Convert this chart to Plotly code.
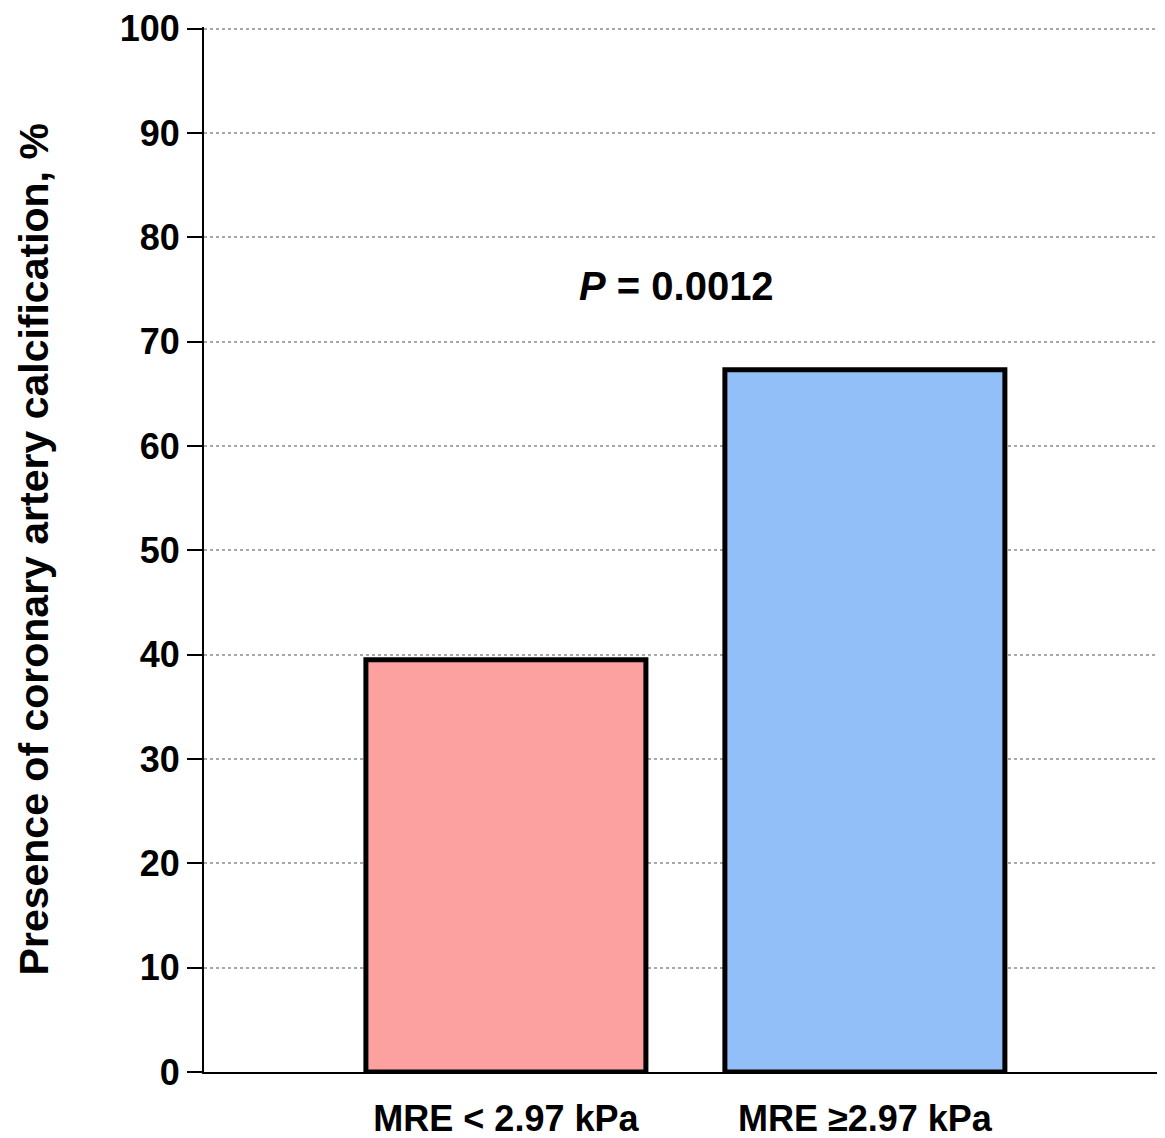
import plotly.graph_objects as go

categories = ["MRE < 2.97 kPa", "MRE \u22652.97 kPa"]
values = [39.5, 67.3]
colors = ["#FCA0A0", "#92BFF7"]
y_ticks = [0, 10, 20, 30, 40, 50, 60, 70, 80, 90, 100]
p_text = "<b><i>P</i> = 0.0012</b>"
y_title = "<b>Presence of coronary artery calcification, %</b>"

fig = go.Figure()
fig.add_trace(go.Bar(
    x=[0, 1], y=values,
    marker=dict(color=colors, line=dict(color="black", width=5)),
    width=0.78,
))

fig.add_annotation(x=0.475, y=75.3, xref="x", yref="y", text=p_text, showarrow=False,
                   font=dict(family="Liberation Sans, Arial", size=40, color="black"))

fig.add_annotation(x=-0.177, y=0.5, xref="paper", yref="paper", text=y_title,
                   showarrow=False, textangle=-90, xanchor="center", yanchor="middle",
                   font=dict(family="Liberation Sans, Arial", size=41, color="black"))

fig.update_layout(
    width=1157, height=1130,
    margin=dict(l=196, r=0, t=19, b=66, autoexpand=False),
    plot_bgcolor="white", paper_bgcolor="white",
    showlegend=False,
    font=dict(family="Liberation Sans, Arial", color="black"),
    xaxis=dict(
        range=[-0.841, 1.836],
        tickvals=[0, 1],
        ticktext=["<b>" + c + "</b>" for c in categories],
        tickfont=dict(size=36, color="black"),
        ticks="", showline=True, linecolor="black", linewidth=2,
        showgrid=False, zeroline=False,
        ticklabelstandoff=14, automargin=False,
    ),
    yaxis=dict(
        range=[0, 100.15],
        tickvals=y_ticks,
        ticktext=["<b>%d</b>" % v for v in y_ticks],
        tickfont=dict(size=36, color="black"),
        ticks="outside", ticklen=15, tickwidth=2, tickcolor="black",
        showline=True, linecolor="black", linewidth=2,
        showgrid=True, gridcolor="#a8a8a8", griddash="dot", gridwidth=1.5,
        zeroline=False, automargin=False,
    ),
)

fig.write_html("out.html")
